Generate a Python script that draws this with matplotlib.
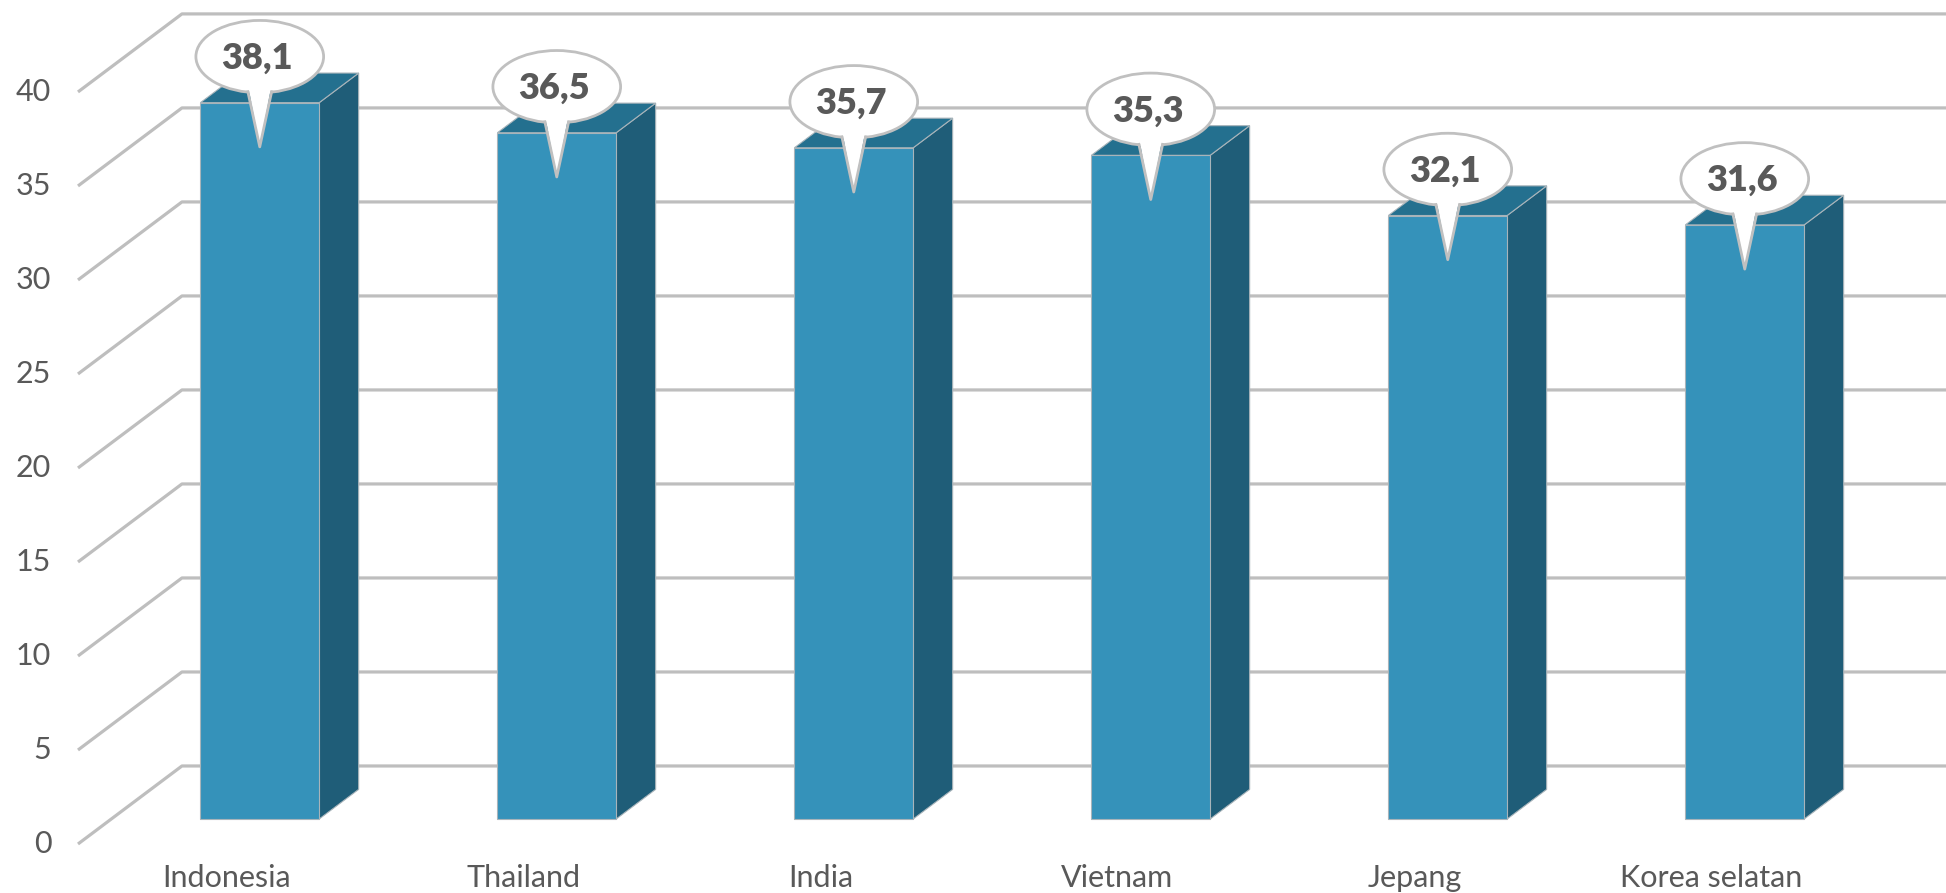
import matplotlib.pyplot as plt
from matplotlib.patches import Polygon, Ellipse

countries = ["Indonesia", "Thailand", "India", "Vietnam", "Jepang", "Korea selatan"]
values = [38.1, 36.5, 35.7, 35.3, 32.1, 31.6]
labels = ["38,1", "36,5", "35,7", "35,3", "32,1", "31,6"]
yticks = [0, 5, 10, 15, 20, 25, 30, 35, 40]

# fake 3d: depth offset in data units (x per category, y per value unit)
DX, DY = 0.35, 4.15
d0, d1 = 0.32, 0.70
half_w = 0.2

front_col = "#3592BA"
top_col = "#24708F"
side_col = "#1F5D78"
grid_col = "#BEBEBE"
text_col = "#595959"

plt.rcParams['font.family'] = ['Lato', 'DejaVu Sans']

fig = plt.figure(figsize=(19.46, 8.93), dpi=100)
ax = fig.add_axes([0, 0, 1, 1])
ax.set_xlim(-0.2626, 6.2896)
ax.set_ylim(-2.606, 44.89)
ax.axis('off')


def proj(x, v, d):
    return (x + d * DX, v + d * DY)


# grid: left wall diagonals + back wall horizontals
for t in yticks:
    x0, y0 = proj(0, t, 0)
    x1, y1 = proj(0, t, 1)
    ax.plot([x0, x1, 7], [y0, y1, y1], color=grid_col, lw=2.3,
            solid_capstyle='butt', zorder=1)
    ax.text(-0.09, t, str(t), ha='right', va='center', fontsize=22,
            color=text_col)

for i, (name, v, lab) in enumerate(zip(countries, values, labels)):
    c = i + 0.5
    l, r = c - half_w, c + half_w
    front = [proj(l, 0, d0), proj(r, 0, d0), proj(r, v, d0), proj(l, v, d0)]
    side = [proj(r, 0, d0), proj(r, 0, d1), proj(r, v, d1), proj(r, v, d0)]
    top = [proj(l, v, d0), proj(r, v, d0), proj(r, v, d1), proj(l, v, d1)]
    ax.add_patch(Polygon(side, closed=True, fc=side_col, ec='#a8b4ba', lw=0.8, zorder=3))
    ax.add_patch(Polygon(top, closed=True, fc=top_col, ec='#a8b4ba', lw=0.8, zorder=3))
    ax.add_patch(Polygon(front, closed=True, fc=front_col, ec='#a8b4ba', lw=0.8, zorder=4))

    ax.text(c, -1.81, name, ha='center', va='center', fontsize=22, color=text_col)

    # callout bubble
    bx, by = proj(c, v, d0)
    cy = by + 2.45
    ew, eh = 0.43, 3.85
    tip = (bx, by - 2.35)
    ax.add_patch(Ellipse((bx, cy), ew, eh, fc='white', ec='#C0C0C0', lw=2, zorder=6))
    tw = 0.04
    base_y = cy - eh / 2 * 0.97
    ax.add_patch(Polygon([(bx - tw, base_y + 0.4), (bx + tw, base_y + 0.4), tip],
                         closed=True, fc='white', ec='none', zorder=7))
    ax.plot([bx - tw, tip[0], bx + tw], [base_y, tip[1], base_y], color='#C0C0C0',
            lw=2, zorder=7)
    ax.text(bx - 0.01, cy - 0.1, lab, ha='center', va='center', fontsize=26,
            fontweight='heavy', color=text_col, zorder=8)

fig.savefig("out.png", dpi=100)
